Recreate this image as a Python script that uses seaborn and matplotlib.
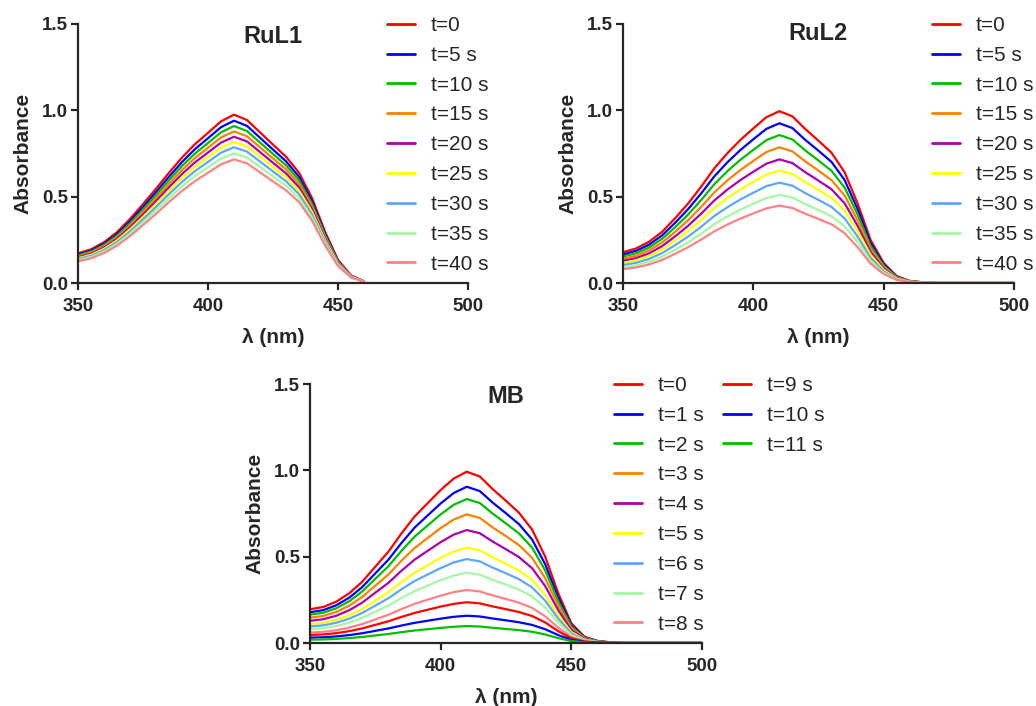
import numpy as np
import pandas as pd
import matplotlib
matplotlib.use("Agg")
import matplotlib.pyplot as plt
import seaborn as sns

# DATA
# wavelengths in nm
wl_rul1 = [350, 355, 360, 365, 370, 375, 380, 385, 390, 395, 400, 405, 410,
           415, 420, 425, 430, 435, 440, 445, 450, 455, 460]
wl_full = [350, 355, 360, 365, 370, 375, 380, 385, 390, 395, 400, 405, 410,
           415, 420, 425, 430, 435, 440, 445, 450, 455, 460, 465, 470, 475,
           480, 485, 490, 495, 500]

# band shape of the t=0 spectrum, relative to its maximum
shape_rul1 = [0.176, 0.200, 0.242, 0.302, 0.380, 0.468, 0.560, 0.655, 0.745,
              0.825, 0.892, 0.960, 1.000, 0.968, 0.895, 0.822, 0.750, 0.655,
              0.505, 0.305, 0.137, 0.045, 0.010]
shape_rul2 = [0.179, 0.201, 0.240, 0.298, 0.377, 0.463, 0.561, 0.667, 0.755,
              0.832, 0.900, 0.965, 1.000, 0.970, 0.895, 0.828, 0.758, 0.645,
              0.463, 0.250, 0.117, 0.040, 0.012, 0.004, 0.0, 0.0, 0.0, 0.0,
              0.0, 0.0, 0.0]
shape_mb = [0.197, 0.210, 0.241, 0.290, 0.358, 0.446, 0.533, 0.640, 0.738,
            0.816, 0.893, 0.960, 1.000, 0.972, 0.897, 0.830, 0.760, 0.662,
            0.504, 0.290, 0.115, 0.037, 0.012, 0.004, 0.0, 0.0, 0.0, 0.0,
            0.0, 0.0, 0.0]

# absorbance at the band maximum for each time
peak_rul1 = [0.975, 0.940, 0.909, 0.878, 0.847, 0.817, 0.786, 0.751, 0.716]
peak_rul2 = [0.995, 0.925, 0.857, 0.786, 0.716, 0.651, 0.581, 0.510, 0.448]
peak_mb = [0.992, 0.905, 0.834, 0.745, 0.654, 0.552, 0.486, 0.407, 0.307,
           0.236, 0.158, 0.098]

labels_rul = ["t=0", "t=5 s", "t=10 s", "t=15 s", "t=20 s", "t=25 s",
              "t=30 s", "t=35 s", "t=40 s"]
labels_mb = ["t=0", "t=1 s", "t=2 s", "t=3 s", "t=4 s", "t=5 s", "t=6 s",
             "t=7 s", "t=8 s", "t=9 s", "t=10 s", "t=11 s"]

colors = ["#FF0000", "#0000FF", "#00BE00", "#FF8000", "#AE00AE", "#FFFF00",
          "#5CA8F8", "#A4F8A4", "#FF8282", "#FF0000", "#0000FF", "#00BE00"]

sns.set_style("ticks")
plt.rcParams["font.family"] = ["Liberation Sans", "DejaVu Sans"]

W, H = 1036, 706
fig = plt.figure(figsize=(W / 100, H / 100), dpi=100)


def panel(rect, wl, shape, peaks, labels, title, title_y):
    ax = fig.add_axes(rect)
    rows = []
    for lab, pk in zip(labels, peaks):
        for w, s in zip(wl, shape):
            rows.append((w, s * pk, lab))
    df = pd.DataFrame(rows, columns=["wl", "A", "t"])
    sns.lineplot(data=df, x="wl", y="A", hue="t", hue_order=labels,
                 palette=colors[:len(labels)], linewidth=1.6,
                 estimator=None, sort=False, ax=ax)
    ax.set_xlim(350, 500)
    ax.set_ylim(0, 1.5)
    ax.set_xticks([350, 400, 450, 500])
    ax.set_yticks([0, 0.5, 1.0, 1.5])
    ax.yaxis.set_major_formatter("{x:.1f}")
    sns.despine(ax=ax)
    for sp in ["left", "bottom"]:
        ax.spines[sp].set_linewidth(1.6)
    ax.tick_params(axis="both", width=1.6, length=5, labelsize=13.5)
    ax.tick_params(axis="x", pad=6)
    ax.tick_params(axis="y", pad=2)
    for t in ax.get_xticklabels() + ax.get_yticklabels():
        t.set_fontweight("bold")
    ax.set_xlabel("λ (nm)", fontsize=15, fontweight="bold", labelpad=9)
    ax.set_ylabel("Absorbance", fontsize=15, fontweight="bold", labelpad=7)
    ax.text(0.5, title_y, title, transform=ax.transAxes, ha="center",
            va="center", fontsize=17, fontweight="bold")
    ax.get_legend().remove()
    return ax


def add_legend(ax, handles, labels, x_px, y_px):
    for h in handles:
        h.set_linewidth(2)
    leg = ax.legend(handles, labels, loc="upper left",
                    bbox_to_anchor=(x_px / W, 1 - y_px / H),
                    bbox_transform=fig.transFigure, frameon=False,
                    fontsize=15, handlelength=1.35, handletextpad=0.75,
                    labelspacing=0.52, borderpad=0, borderaxespad=0)
    return leg


ax1 = panel([78 / W, 1 - 283 / H, 390 / W, 259 / H], wl_rul1, shape_rul1,
            peak_rul1, labels_rul, "RuL1", 0.95)
h, l = ax1.get_legend_handles_labels()
add_legend(ax1, h, l, 387, 16)

ax2 = panel([623 / W, 1 - 283 / H, 391 / W, 259 / H], wl_full, shape_rul2,
            peak_rul2, labels_rul, "RuL2", 0.962)
h, l = ax2.get_legend_handles_labels()
add_legend(ax2, h, l, 932, 16)

ax3 = panel([310 / W, 1 - 643 / H, 392 / W, 259 / H], wl_full, shape_mb,
            peak_mb, labels_mb, "MB", 0.95)
h, l = ax3.get_legend_handles_labels()
leg_a = add_legend(ax3, h[:9], l[:9], 614, 376)
ax3.add_artist(leg_a)
add_legend(ax3, h[9:], l[9:], 723, 376)

fig.savefig("out.png", dpi=100)
